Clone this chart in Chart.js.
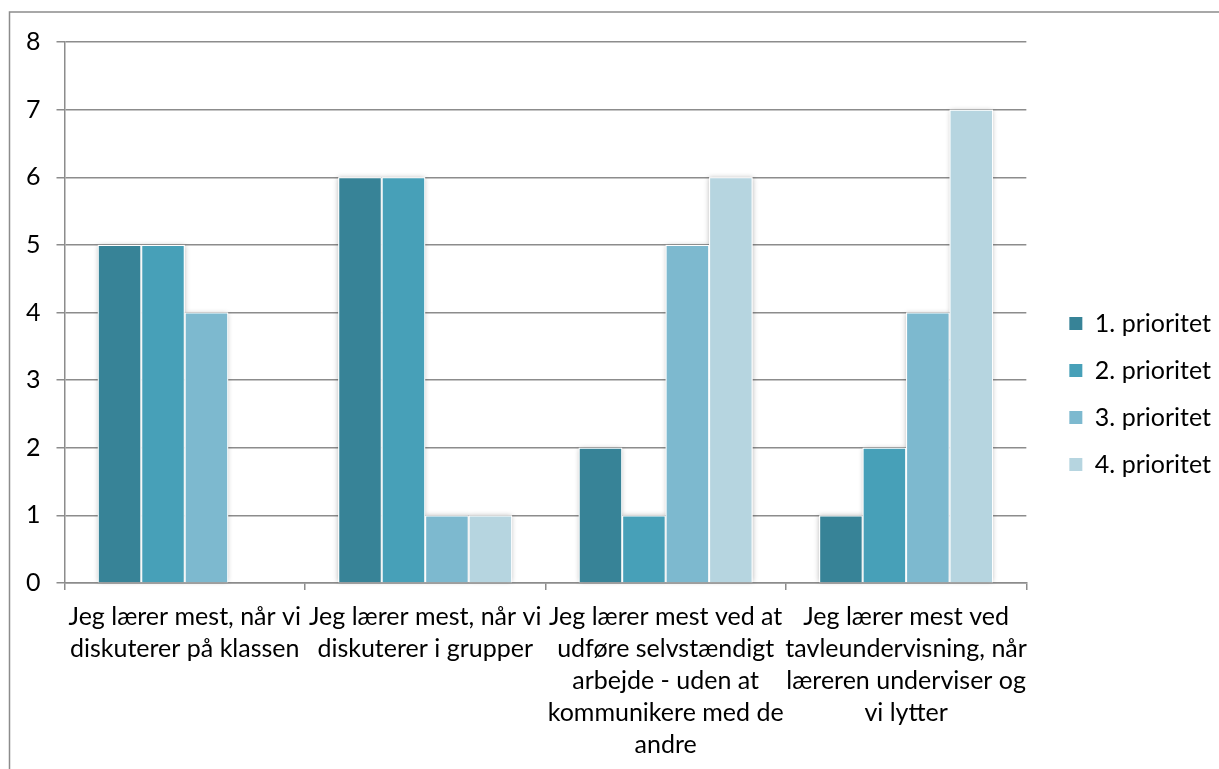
<!DOCTYPE html>
<html>
<head>
<meta charset="utf-8">
<script src="https://cdn.jsdelivr.net/npm/chart.js@4"></script>
<style>
  html, body { margin: 0; padding: 0; background: #fff; overflow: hidden; }
  canvas { display: block; }
</style>
</head>
<body>
<canvas id="c" width="1219" height="769"></canvas>
<script>
// Categories (statements), wrapped the way they are shown under the axis
const categories = [
  ["Jeg lærer mest, når vi", "diskuterer på klassen"],
  ["Jeg lærer mest, når vi", "diskuterer i grupper"],
  ["Jeg lærer mest ved at", "udføre selvstændigt", "arbejde - uden at", "kommunikere med de", "andre"],
  ["Jeg lærer mest ved", "tavleundervisning, når", "læreren underviser og", "vi lytter"]
];

const seriesNames = ["1. prioritet", "2. prioritet", "3. prioritet", "4. prioritet"];

// Number of answers per priority, one value per category
const prioritet1 = [5, 6, 2, 1];
const prioritet2 = [5, 6, 1, 2];
const prioritet3 = [4, 1, 5, 4];
const prioritet4 = [0, 1, 6, 7];

const yTicks = [0, 1, 2, 3, 4, 5, 6, 7, 8];

const seriesColors = ["#378397", "#47a0b8", "#7db9cf", "#b6d5e0"];
const gridColor = "#8c8c8c";

Chart.defaults.font.family = "Lato, 'Liberation Sans', sans-serif";
Chart.defaults.color = "#000";

const seriesValues = [prioritet1, prioritet2, prioritet3, prioritet4];

// Soft shadow behind each bar, drawn from the bar elements' own geometry
const barShadow = {
  id: "barShadow",
  beforeDatasetsDraw(chart) {
    const ctx = chart.ctx;
    ctx.save();
    ctx.shadowColor = "rgba(0,0,0,0.28)";
    ctx.shadowBlur = 5;
    ctx.fillStyle = "#fff";
    chart.data.datasets.forEach((ds, i) => {
      const meta = chart.getDatasetMeta(i);
      meta.data.forEach((bar, j) => {
        if (!ds.data[j]) return;
        const p = bar.getProps(["x", "y", "base", "width"], true);
        ctx.fillRect(p.x - p.width / 2, p.y, p.width, p.base - p.y);
      });
    });
    ctx.restore();
  }
};

// White background and the outer chart frame
const frame = {
  id: "frame",
  beforeDraw(chart) {
    const ctx = chart.ctx;
    ctx.save();
    ctx.fillStyle = "#fff";
    ctx.fillRect(0, 0, chart.width, chart.height);
    ctx.strokeStyle = "#8c8c8c";
    ctx.lineWidth = 1.5;
    ctx.strokeRect(9.5, 12, chart.width + 20, chart.height + 20);
    ctx.restore();
  }
};

// Keep a gap between the plot and the legend column, and centre the column
const legendGap = {
  id: "legendGap",
  afterLayout(chart) {
    const lg = chart.legend;
    const shiftX = 21;
    const shiftY = -13;
    lg.left = chart.chartArea.right + shiftX;
    lg.right = lg.left + lg.width;
    lg.top += shiftY;
    lg.bottom += shiftY;
  }
};

new Chart(document.getElementById("c"), {
  type: "bar",
  data: {
    labels: categories,
    datasets: seriesNames.map((name, i) => ({
      label: name,
      data: seriesValues[i],
      backgroundColor: seriesColors[i],
      borderColor: "#fff",
      borderWidth: 1,
      borderSkipped: "bottom",
      barPercentage: 1,
      categoryPercentage: 0.723
    }))
  },
  options: {
    responsive: false,
    animation: false,
    layout: { padding: { left: 10, top: 42, right: 19, bottom: -3 } },
    plugins: {
      tooltip: { enabled: false },
      legend: {
        position: "right",
        labels: {
          boxWidth: 13,
          boxHeight: 13,
          padding: 22,
          font: { size: 25 },
          color: "#000",
          generateLabels(chart) {
            return chart.data.datasets.map((ds, i) => ({
              text: ds.label,
              fillStyle: ds.backgroundColor,
              strokeStyle: ds.backgroundColor,
              lineWidth: 0,
              hidden: false,
              datasetIndex: i
            }));
          }
        }
      }
    },
    scales: {
      x: {
        grid: {
          display: true,
          drawOnChartArea: false,
          drawTicks: true,
          tickLength: 7,
          color: gridColor,
          lineWidth: 1.5
        },
        border: { display: true, color: gridColor, width: 1.5 },
        ticks: {
          autoSkip: false,
          maxRotation: 0,
          minRotation: 0,
          padding: 11,
          font: { size: 25, lineHeight: 32 / 25 },
          color: "#000"
        }
      },
      y: {
        min: yTicks[0],
        max: yTicks[yTicks.length - 1],
        afterBuildTicks(scale) {
          scale.ticks = yTicks.map(v => ({ value: v }));
        },
        grid: {
          color: gridColor,
          lineWidth: 1.5,
          tickLength: 8
        },
        border: { display: true, color: gridColor, width: 1.5 },
        ticks: {
          padding: 16,
          font: { size: 25, lineHeight: 1.2 },
          color: "#000"
        }
      }
    }
  },
  plugins: [frame, barShadow, legendGap]
});
</script>
</body>
</html>
